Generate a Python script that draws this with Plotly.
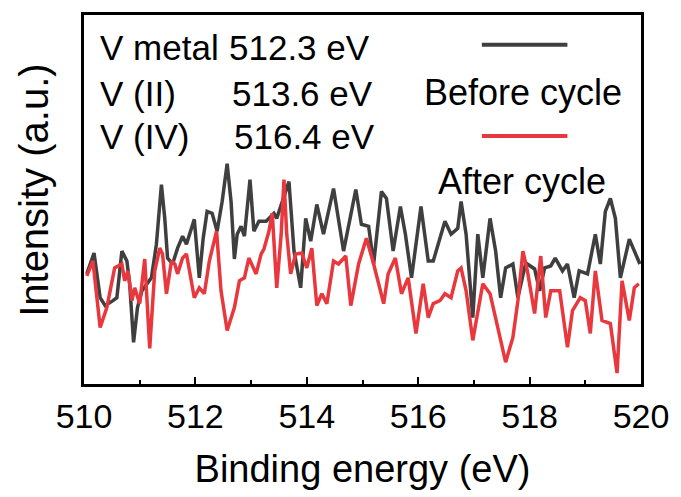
import plotly.graph_objects as go

# Binding energy (eV) and intensity (a.u.)
before_x = [510.05, 510.18, 510.29, 510.38, 510.52, 510.59, 510.68, 510.77, 510.82, 510.89,
            510.96, 511.04, 511.21, 511.30, 511.39, 511.45, 511.50, 511.59, 511.68, 511.77,
            511.84, 511.89, 511.98, 512.07, 512.14, 512.21, 512.30, 512.39, 512.48, 512.57,
            512.64, 512.70, 512.75, 512.82, 512.88, 512.98, 513.05, 513.14, 513.27, 513.41,
            513.46, 513.68, 513.77, 513.89, 513.98, 514.07, 514.18, 514.30, 514.48, 514.66,
            514.88, 514.98, 515.11, 515.20, 515.34, 515.43, 515.55, 515.68, 515.77, 515.88,
            516.05, 516.18, 516.27, 516.48, 516.59, 516.71, 516.77, 516.86, 516.98, 517.07,
            517.16, 517.29, 517.39, 517.48, 517.57, 517.70, 517.79, 517.93, 518.09, 518.18,
            518.27, 518.38, 518.46, 518.59, 518.68, 518.80, 518.89, 519.04, 519.18, 519.27,
            519.36, 519.45, 519.54, 519.63, 519.79, 519.98]
before_y = [1.27, 1.48, 1.03, 0.95, 1.00, 1.03, 1.50, 1.40, 1.17, 0.58,
            0.93, 1.10, 1.23, 1.57, 2.17, 1.83, 1.43, 1.37, 1.53, 1.65,
            1.57, 1.67, 1.82, 1.23, 1.63, 1.90, 1.88, 1.70, 2.00, 2.38,
            2.00, 1.42, 1.67, 1.75, 1.65, 2.22, 1.70, 1.80, 1.80, 1.88,
            1.83, 2.20, 1.50, 1.13, 1.83, 1.60, 1.97, 1.67, 2.13, 1.50,
            2.12, 1.77, 1.75, 1.37, 2.10, 2.03, 1.50, 1.95, 1.67, 1.23,
            1.95, 1.40, 1.40, 1.80, 1.67, 1.73, 2.00, 1.67, 0.83, 1.67,
            1.23, 1.83, 1.50, 1.03, 1.33, 1.37, 1.03, 1.38, 1.32, 1.10,
            1.33, 1.35, 1.43, 1.30, 1.37, 1.03, 1.30, 1.27, 1.67, 1.37,
            1.90, 2.03, 1.83, 1.23, 1.62, 1.37]

after_x = [510.05, 510.16, 510.29, 510.41, 510.55, 510.68, 510.73, 510.79, 510.86, 510.91,
           511.00, 511.09, 511.18, 511.27, 511.36, 511.41, 511.48, 511.57, 511.63, 511.68,
           511.77, 511.84, 511.98, 512.07, 512.16, 512.25, 512.38, 512.46, 512.57, 512.70,
           512.79, 512.88, 512.96, 513.09, 513.18, 513.23, 513.32, 513.38, 513.46, 513.54,
           513.59, 513.64, 513.71, 513.80, 513.91, 514.00, 514.09, 514.18, 514.27, 514.36,
           514.48, 514.57, 514.70, 514.79, 514.93, 515.07, 515.20, 515.29, 515.38, 515.46,
           515.59, 515.70, 515.82, 515.96, 516.09, 516.18, 516.27, 516.39, 516.48, 516.59,
           516.71, 516.77, 516.86, 516.98, 517.07, 517.16, 517.29, 517.39, 517.57, 517.70,
           517.79, 517.88, 517.96, 518.09, 518.20, 518.29, 518.38, 518.54, 518.68, 518.77,
           518.91, 519.00, 519.09, 519.18, 519.30, 519.45, 519.57, 519.66, 519.79, 519.88,
           519.96]
after_y = [1.25, 1.40, 0.73, 0.93, 1.33, 1.37, 1.20, 1.30, 1.00, 1.13,
           0.97, 1.42, 0.52, 1.30, 1.53, 1.47, 1.07, 1.40, 1.37, 1.27,
           1.43, 1.47, 1.03, 1.13, 1.07, 1.40, 1.70, 1.10, 0.70, 0.93,
           1.20, 1.23, 1.43, 1.27, 1.47, 1.52, 1.70, 1.88, 1.13, 1.67,
           2.22, 1.67, 1.27, 1.47, 1.48, 1.33, 1.53, 0.95, 1.07, 0.97,
           1.40, 1.37, 1.45, 0.95, 1.37, 1.63, 1.37, 1.17, 0.97, 1.27,
           1.43, 1.07, 1.23, 0.67, 1.17, 0.83, 0.97, 1.00, 1.07, 1.03,
           1.30, 1.33, 1.10, 0.60, 0.90, 1.17, 1.07, 0.83, 0.38, 0.63,
           1.00, 1.50, 1.30, 0.87, 1.45, 0.83, 1.10, 1.10, 0.53, 0.90,
           1.03, 1.00, 0.67, 1.30, 0.80, 0.77, 0.27, 1.20, 0.80, 1.13,
           1.17]

x_ticks = [510, 512, 514, 516, 518, 520]
peak_labels = ["V metal", "V (II)", "V (IV)"]
peak_values = ["512.3 eV", "513.6 eV", "516.4 eV"]
series_names = ["Before cycle", "After cycle"]
colors = ["#3f3f3f", "#e8383d"]

FONT = "Liberation Sans, Arial, sans-serif"

fig = go.Figure()
fig.add_trace(go.Scatter(x=before_x, y=before_y, mode="lines", name=series_names[0],
                         line=dict(color=colors[0], width=3.5), showlegend=False))
fig.add_trace(go.Scatter(x=after_x, y=after_y, mode="lines", name=series_names[1],
                         line=dict(color=colors[1], width=3.5), showlegend=False))

L, R, T, B = 84, 37, 12, 113
W, H = 681, 497
pw, ph = W - L - R, H - T - B


def px(x):
    return (x - L) / pw


def py(y):
    return (H - B - y) / ph


ann = []
row_y = [44.5, 91, 134.5]
val_x = [228, 231, 233]
for i in range(3):
    ann.append(dict(text=peak_labels[i], x=px(98), y=py(row_y[i]), xref="paper", yref="paper",
                    xanchor="left", yanchor="middle", showarrow=False,
                    font=dict(size=35, color="black", family=FONT)))
    ann.append(dict(text=peak_values[i], x=px(val_x[i]), y=py(row_y[i]), xref="paper", yref="paper",
                    xanchor="left", yanchor="middle", showarrow=False,
                    font=dict(size=35, color="black", family=FONT)))

ann.append(dict(text=series_names[0], x=px(525), y=py(90), xref="paper", yref="paper",
                xanchor="center", yanchor="middle", showarrow=False,
                font=dict(size=36, color="black", family=FONT)))
ann.append(dict(text=series_names[1], x=px(524), y=py(180), xref="paper", yref="paper",
                xanchor="center", yanchor="middle", showarrow=False,
                font=dict(size=36, color="black", family=FONT)))
ann.append(dict(text="Intensity (a.u.)", x=px(33), y=py(189), xref="paper", yref="paper",
                xanchor="center", yanchor="middle", textangle=-90, showarrow=False,
                font=dict(size=40, color="black", family=FONT)))

shapes = [
    dict(type="line", xref="paper", yref="paper", x0=px(484), x1=px(570), y0=py(42), y1=py(42),
         line=dict(color=colors[0], width=4)),
    dict(type="line", xref="paper", yref="paper", x0=px(484), x1=px(570), y0=py(134), y1=py(134),
         line=dict(color=colors[1], width=4)),
]

fig.update_layout(
    width=W, height=H,
    margin=dict(l=L, r=R, t=T, b=B),
    paper_bgcolor="white", plot_bgcolor="white",
    font=dict(family=FONT, color="black"),
    annotations=ann, shapes=shapes,
    xaxis=dict(range=[510, 520], tickvals=x_ticks, ticktext=[str(v) for v in x_ticks],
               ticks="inside", ticklen=7, tickwidth=2, tickcolor="black",
               minor=dict(dtick=1, ticks="inside", ticklen=4, tickwidth=2, tickcolor="black"),
               showline=True, linewidth=2.5, linecolor="black", mirror=True,
               showgrid=False, zeroline=False,
               tickfont=dict(size=34, color="black", family=FONT),
               title=dict(text="Binding energy (eV)", standoff=22,
                          font=dict(size=38, color="black", family=FONT))),
    yaxis=dict(range=[0.16, 3.88], showticklabels=False, ticks="",
               showline=True, linewidth=2.5, linecolor="black", mirror=True,
               showgrid=False, zeroline=False),
)

fig.write_html("out.html")
